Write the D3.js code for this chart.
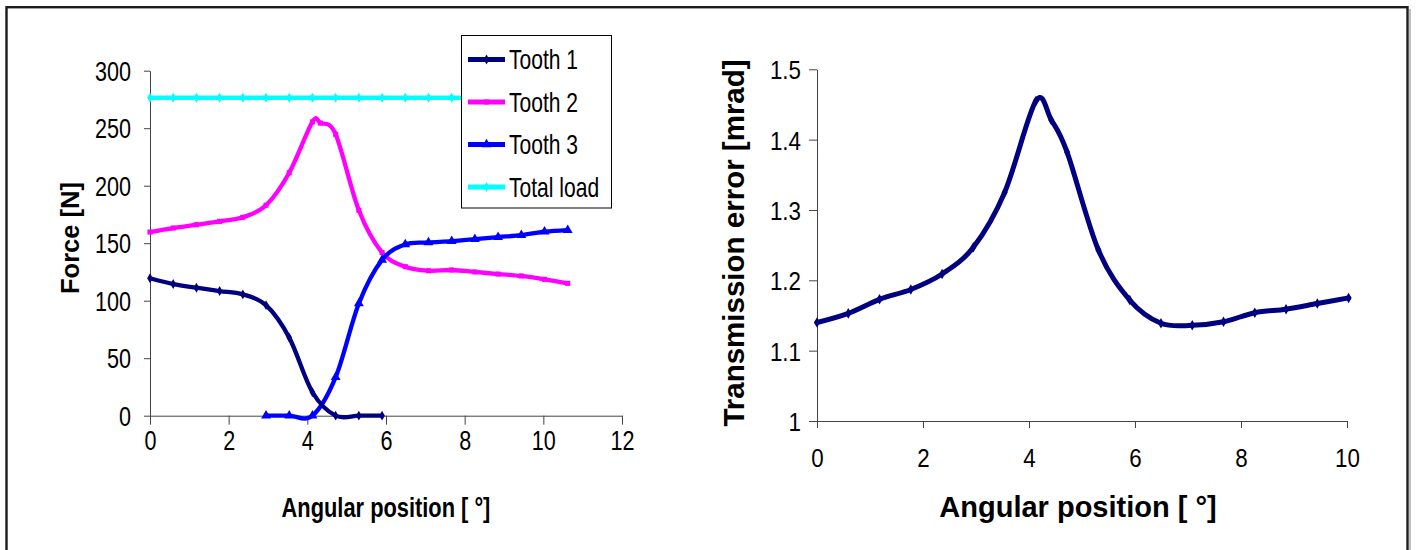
<!DOCTYPE html>
<html>
<head>
<meta charset="utf-8">
<script src="https://cdn.jsdelivr.net/npm/d3@7"></script>
<style>
  html, body { margin: 0; padding: 0; background: #fff; }
  svg { display: block; font-family: "Liberation Sans", Arial, sans-serif; }
</style>
</head>
<body>
<svg id="chart" width="1416" height="550"></svg>
<script>
// ---------- DATA ----------
const seriesNames = ["Tooth 1", "Tooth 2", "Tooth 3", "Total load"];

const tooth1Angle = [0, 0.59, 1.18, 1.77, 2.36, 2.95, 3.54, 4.13, 4.72, 5.31, 5.90];
const tooth1Force = [119.5, 114.5, 111.3, 108.4, 105.5, 96.1, 67.9, 20.4, 0, 0, 0];

const tooth2Angle = [0, 0.59, 1.18, 1.77, 2.36, 2.95, 3.54, 4.13, 4.33, 4.72, 5.31, 5.90, 6.49, 7.08, 7.67, 8.26, 8.85, 9.44, 10.03, 10.62];
const tooth2Force = [159.7, 163.2, 166.1, 169.0, 172.5, 183.0, 211.3, 255.5, 254.5, 244.7, 178.6, 141.9, 129.6, 126.1, 126.7, 125.0, 123.2, 121.5, 118.6, 115.1];

const tooth3Angle = [2.95, 3.54, 4.13, 4.72, 5.31, 5.90, 6.49, 7.08, 7.67, 8.26, 8.85, 9.44, 10.03, 10.62];
const tooth3Force = [0, 0, 0, 33.5, 97.6, 135.5, 149.0, 150.6, 151.8, 153.5, 155.3, 157.0, 160.0, 161.4];

const totalAngle = [0, 0.59, 1.18, 1.77, 2.36, 2.95, 3.54, 4.13, 4.72, 5.31, 5.90, 6.49, 7.08, 7.67, 8.26, 8.85, 9.44, 10.03, 10.62];
const totalForce = [276.5, 276.5, 276.5, 276.5, 276.5, 276.5, 276.5, 276.5, 276.5, 276.5, 276.5, 276.5, 276.5, 276.5, 276.5, 276.5, 276.5, 276.5, 276.5];

const teAngle = [0, 0.59, 1.18, 1.77, 2.36, 2.95, 3.54, 4.13, 4.42, 4.72, 5.31, 5.90, 6.49, 7.08, 7.67, 8.26, 8.85, 9.44, 10.03];
const teValue = [1.140, 1.153, 1.173, 1.187, 1.209, 1.247, 1.325, 1.455, 1.428, 1.382, 1.243, 1.172, 1.139, 1.136, 1.141, 1.154, 1.159, 1.167, 1.175];

const leftXTicks = [0, 2, 4, 6, 8, 10, 12];
const leftYTicks = [0, 50, 100, 150, 200, 250, 300];
const rightXTicks = [0, 2, 4, 6, 8, 10];
const rightYTicks = [1, 1.1, 1.2, 1.3, 1.4, 1.5];

const leftXTitle = "Angular position [ °]";
const leftYTitle = "Force [N]";
const rightXTitle = "Angular position [ °]";
const rightYTitle = "Transmission error [mrad]";

// ---------- DRAW ----------
const svg = d3.select("#chart");
const zip = (xs, ys) => xs.map((x, i) => ({x, y: ys[i]}));

// frame
svg.append("line").attr("x1", 1410).attr("x2", 1410).attr("y1", 9).attr("y2", 550)
  .attr("stroke", "#aaa").attr("stroke-width", 1.5);
svg.append("rect").attr("x", 6.5).attr("y", 7.2).attr("width", 1401).attr("height", 600)
  .attr("fill", "none").attr("stroke", "#1c1c1c").attr("stroke-width", 2.4);

function condense(sel, sx) {
  sel.each(function() {
    const t = d3.select(this);
    const x = +t.attr("x") || 0;
    t.attr("x", 0).attr("transform", `translate(${x},0) scale(${sx},1)`);
  });
}

// ---- Left chart ----
const lx = d3.scaleLinear().domain([0, 12]).range([150, 622]);
const ly = d3.scaleLinear().domain([0, 300]).range([415.7, 70.7]);

const gxL = svg.append("g").attr("transform", `translate(0,${ly(0)})`)
  .call(d3.axisBottom(lx).tickValues(leftXTicks).tickSizeInner(9).tickSizeOuter(0).tickFormat(d3.format("d")));
const gyL = svg.append("g").attr("transform", `translate(${lx(0)},0)`)
  .call(d3.axisLeft(ly).tickValues(leftYTicks).tickSizeInner(6).tickSizeOuter(0).tickFormat(d3.format("d")));

[gxL, gyL].forEach(g => {
  g.select(".domain").attr("stroke", "#444").attr("stroke-width", 1);
  g.selectAll(".tick line").attr("stroke", "#444").attr("stroke-width", 1);
  g.selectAll(".tick text").attr("fill", "#000").attr("font-size", 27)
    .attr("font-family", "'Liberation Sans', Arial, sans-serif");
});
gxL.selectAll(".tick text").attr("y", 25).attr("dy", "0.36em");
gyL.selectAll(".tick text").attr("x", -19).attr("dy", "0.36em");
condense(gxL.selectAll(".tick text"), 0.8);
condense(gyL.selectAll(".tick text"), 0.8);

const lineL = d3.line().x(d => lx(d.x)).y(d => ly(d.y)).curve(d3.curveCardinal.tension(0));

const leftSeries = [
  {name: seriesNames[3], data: zip(totalAngle, totalForce), color: "#00FFFF", sym: d3.symbolDiamond, size: 28},
  {name: seriesNames[1], data: zip(tooth2Angle, tooth2Force), color: "#FF00FF", sym: d3.symbolSquare, size: 26},
  {name: seriesNames[2], data: zip(tooth3Angle, tooth3Force), color: "#0000FF", sym: d3.symbolTriangle, size: 42},
  {name: seriesNames[0], data: zip(tooth1Angle, tooth1Force), color: "#000080", sym: d3.symbolDiamond, size: 28}
];

leftSeries.forEach(s => {
  svg.append("path").datum(s.data).attr("d", lineL)
    .attr("fill", "none").attr("stroke", s.color).attr("stroke-width", 4.3)
    .attr("stroke-linejoin", "round").attr("stroke-linecap", "round");
  svg.append("g").selectAll("path").data(s.data).join("path")
    .attr("transform", d => `translate(${lx(d.x)},${ly(d.y)})`)
    .attr("d", d3.symbol().type(s.sym).size(s.size))
    .attr("fill", s.color);
});

// legend
const leg = svg.append("g");
leg.append("rect").attr("x", 461.5).attr("y", 35.5).attr("width", 150).attr("height", 172.5)
  .attr("fill", "#fff").attr("stroke", "#000").attr("stroke-width", 1);
const legOrder = [
  {name: seriesNames[0], color: "#000080", sym: d3.symbolDiamond, size: 28},
  {name: seriesNames[1], color: "#FF00FF", sym: d3.symbolSquare, size: 26},
  {name: seriesNames[2], color: "#0000FF", sym: d3.symbolTriangle, size: 42},
  {name: seriesNames[3], color: "#00FFFF", sym: d3.symbolDiamond, size: 28}
];
legOrder.forEach((s, i) => {
  const cy = 59.5 + i * 42.5;
  leg.append("line").attr("x1", 468).attr("x2", 505).attr("y1", cy).attr("y2", cy)
    .attr("stroke", s.color).attr("stroke-width", 5);
  leg.append("path").attr("transform", `translate(486.5,${cy})`)
    .attr("d", d3.symbol().type(s.sym).size(s.size)).attr("fill", s.color);
  leg.append("text").attr("transform", `translate(509,${cy}) scale(0.78,1)`)
    .attr("dy", "0.36em").attr("font-size", 27).attr("fill", "#000").text(s.name);
});

// titles left
svg.append("text").attr("transform", "translate(386,507) scale(0.78,1)")
  .attr("text-anchor", "middle").attr("dy", "0.36em")
  .attr("font-size", 28).attr("font-weight", "bold").text(leftXTitle);
svg.append("text").attr("transform", "translate(70,238) rotate(-90)")
  .attr("text-anchor", "middle").attr("dy", "0.36em")
  .attr("font-size", 25.5).attr("font-weight", "bold").text(leftYTitle);

// ---- Right chart ----
const rx = d3.scaleLinear().domain([0, 10]).range([817, 1347]);
const ry = d3.scaleLinear().domain([1, 1.5]).range([421, 69.3]);

const gxR = svg.append("g").attr("transform", `translate(0,${ry(1)})`)
  .call(d3.axisBottom(rx).tickValues(rightXTicks).tickSizeInner(7).tickSizeOuter(0).tickFormat(d3.format("d")));
const gyR = svg.append("g").attr("transform", `translate(${rx(0)},0)`)
  .call(d3.axisLeft(ry).tickValues(rightYTicks).tickSizeInner(8).tickSizeOuter(0).tickFormat(d => d === 1 ? "1" : d3.format(".1f")(d)));

[gxR, gyR].forEach(g => {
  g.select(".domain").attr("stroke", "#444").attr("stroke-width", 1);
  g.selectAll(".tick line").attr("stroke", "#444").attr("stroke-width", 1);
  g.selectAll(".tick text").attr("fill", "#000").attr("font-size", 26)
    .attr("font-family", "'Liberation Sans', Arial, sans-serif");
});
gxR.selectAll(".tick text").attr("y", 37).attr("dy", "0.36em");
gyR.selectAll(".tick text").attr("x", -16).attr("dy", "0.36em");
condense(gxR.selectAll(".tick text"), 0.86);
condense(gyR.selectAll(".tick text"), 0.86);

const lineR = d3.line().x(d => rx(d.x)).y(d => ry(d.y)).curve(d3.curveCardinal.tension(0));
const teData = zip(teAngle, teValue);
svg.append("path").datum(teData).attr("d", lineR)
  .attr("fill", "none").attr("stroke", "#000080").attr("stroke-width", 5)
  .attr("stroke-linejoin", "round").attr("stroke-linecap", "round");
svg.append("g").selectAll("path").data(teData).join("path")
  .attr("transform", d => `translate(${rx(d.x)},${ry(d.y)})`)
  .attr("d", d3.symbol().type(d3.symbolDiamond).size(32))
  .attr("fill", "#000080");

svg.append("text").attr("x", 1078).attr("y", 507)
  .attr("text-anchor", "middle").attr("dy", "0.36em")
  .attr("font-size", 29).attr("font-weight", "bold").text(rightXTitle);
svg.append("text").attr("transform", "translate(733,243) rotate(-90)")
  .attr("text-anchor", "middle").attr("dy", "0.36em")
  .attr("font-size", 29.5).attr("font-weight", "bold").text(rightYTitle);
</script>
</body>
</html>
